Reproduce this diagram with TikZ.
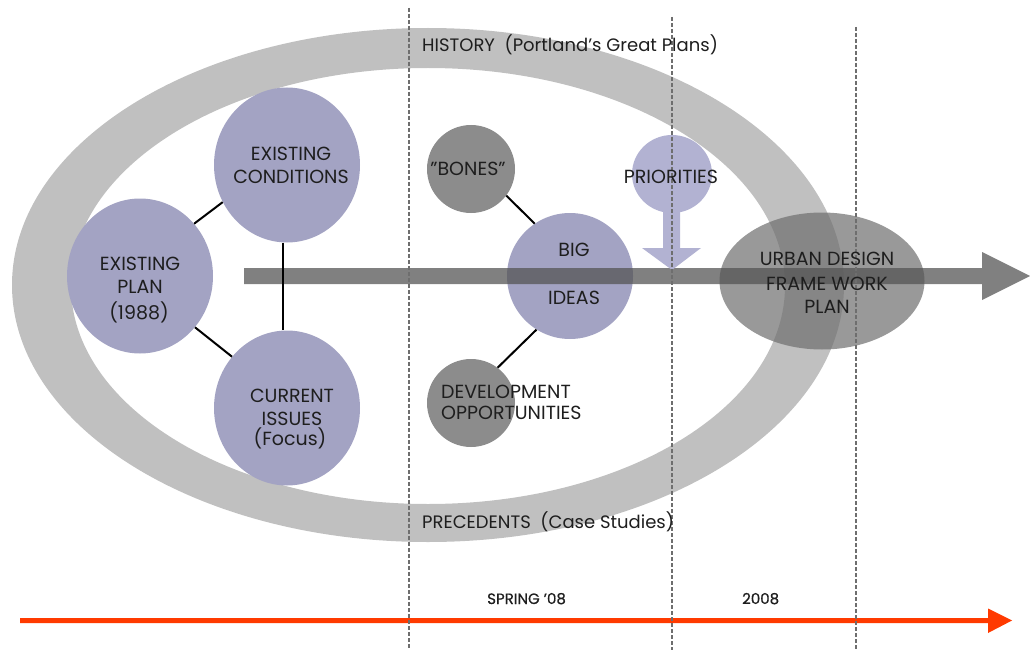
\documentclass[tikz,border=0pt]{standalone}
\usepackage{fontspec}
\setmainfont{Poppins}
\usetikzlibrary{shapes.geometric}
\definecolor{lav}{RGB}{163,163,195}
\definecolor{lavlight}{RGB}{178,178,210}
\definecolor{ringgray}{RGB}{192,192,192}
\definecolor{dotgray}{RGB}{140,140,140}
\definecolor{urbgray}{RGB}{110,110,110}
\definecolor{bargray}{RGB}{85,85,85}
\definecolor{txtc}{RGB}{30,30,30}
\definecolor{dashc}{RGB}{110,110,110}
\definecolor{timec}{RGB}{255,58,0}
\tikzset{
  bigc/.style={ellipse, fill=lav, inner sep=0pt, minimum width=146pt, minimum height=155pt},
  smallc/.style={ellipse, fill=dotgray, inner sep=0pt, minimum width=88pt, minimum height=88pt},
  conn/.style={draw=black, line width=2pt},
  vdash/.style={draw=dashc, line width=2.2pt, dash pattern=on 4pt off 2pt},
  lbl/.style={text=txtc, font=\fontsize{19}{22}\selectfont, inner sep=0pt, anchor=base},
  lblw/.style={lbl, anchor=base west},
  hist/.style={lblw, font=\fontsize{18}{22}\selectfont},
  sml/.style={lblw, font=\fontsize{15}{18}\selectfont\addfontfeature{FakeBold=0.6}},
}
\begin{document}
\begin{tikzpicture}[x=1pt,y=-1pt]
\useasboundingbox (0,0) rectangle (1030,650);
% ring
\fill[ringgray, even odd rule] (428,285) ellipse [x radius=416, y radius=257]
                               (428,286) ellipse [x radius=357, y radius=218];
% circles
\node[bigc] (cond) at (287,165) {};
\node[bigc] (plan) at (140,276) {};
\node[bigc] (issues) at (287,408) {};
\node[smallc] (bones) at (471,169) {};
\node[smallc] (devopp) at (471,403) {};
\node[ellipse, fill=lav, inner sep=0pt, minimum width=126pt, minimum height=126pt] (ideas) at (570,276) {};
\node[ellipse, fill=lavlight, inner sep=0pt, minimum width=80pt, minimum height=78pt] (prio) at (672,174) {};
\node[ellipse, fill=urbgray, fill opacity=0.7, inner sep=0pt, minimum width=205pt, minimum height=137pt] (urban) at (822,281) {};
% main gray arrow
\coordinate (barstart) at (244,276);
\coordinate (bartip) at (1030,276);
\fill[bargray, fill opacity=0.75] (244,268) -- (982,268) -- (982,252) -- (bartip) -- (982,300) -- (982,284) -- (244,284) -- cycle;
% priorities arrow
\fill[lavlight] (663,210) -- (663,248) -- (642,248) -- (672,270) -- (701,248) -- (680,248) -- (680,210) -- cycle;
% connectors
\draw[conn] (plan.44) -- (cond.210);
\draw[conn] (plan.317) -- (issues.137);
\draw[conn] (cond.267) -- (issues.93);
\draw[conn] (bones.323) -- (ideas.124);
\draw[conn] (ideas.238) -- (devopp.53);
% timeline
\fill[timec] (20,618) -- (988,618) -- (988,608.5) -- (1012,620.5) -- (988,633) -- (988,623) -- (20,623) -- cycle;
% dashed lines
\coordinate (d1t) at (409,8);   \coordinate (d1b) at (409,650);
\coordinate (d2t) at (672,17);  \coordinate (d2b) at (672,650);
\coordinate (d3t) at (856,27);  \coordinate (d3b) at (856,650);
\draw[vdash] (d1t) -- (d1b);
\draw[vdash] (d2t) -- (d2b);
\draw[vdash] (d3t) -- (d3b);
% texts
\node[lbl] (t1) at (291,160) {EXISTING};
\node[lbl] (t2) at (291,183) {CONDITIONS};
\node[lbl] (t3) at (140,270) {EXISTING};
\node[lbl] (t4) at (140,293) {PLAN};
\node[lbl] (t5) at (139,319) {(1988)};
\node[lbl] (t6) at (292,402) {CURRENT};
\node[lbl] (t7) at (292,425) {ISSUES};
\node[lbl] (t8) at (290,445) {(Focus)};
\node[lbl] (t9) at (468,175) {"BONES"};
\node[lbl] (t10) at (574,256) {BIG};
\node[lbl] (t11) at (574,304) {IDEAS};
\node[lblw] (t12) at (441,398) {DEVELOPMENT};
\node[lblw] (t13) at (441,419) {OPPORTUNITIES};
\node[lbl] (t14) at (671,183) {PRIORITIES};
\node[lbl] (t15) at (827,265) {URBAN DESIGN};
\node[lbl] (t16) at (827,290) {FRAME WORK};
\node[lbl] (t17) at (827,313) {PLAN};
\node[hist] (t18) at (422,52) {HISTORY\ \ (Portland's Great Plans)};
\node[hist] (t19) at (422,528) {PRECEDENTS\ \ (Case Studies)};
\node[sml] (t20) at (487,604) {SPRING '08};
\node[sml] (t21) at (742,604) {2008};
\end{tikzpicture}
\end{document}
